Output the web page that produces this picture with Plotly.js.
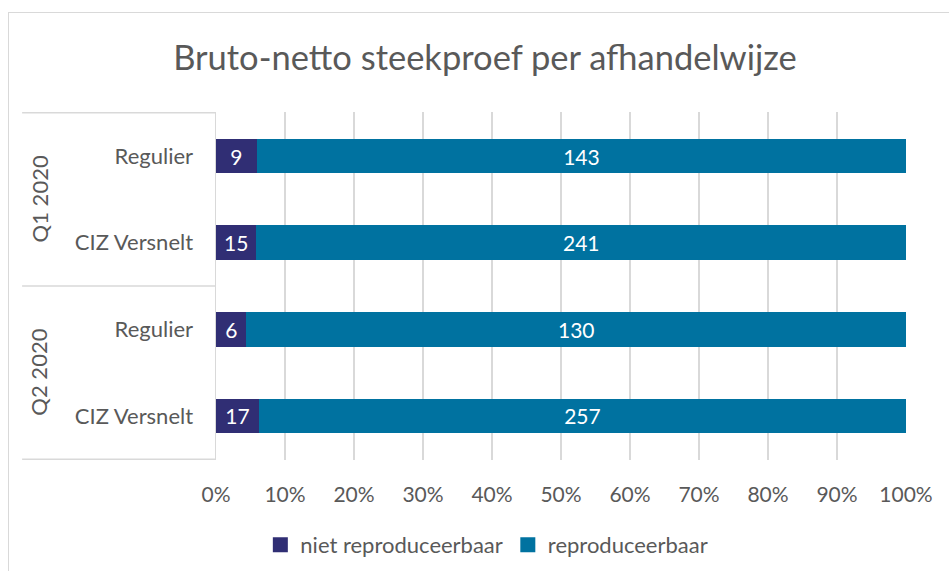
<!DOCTYPE html>
<html>
<head>
<meta charset="utf-8">
<script src="https://cdn.plot.ly/plotly-3.0.1.min.js"></script>
<style>
  html, body { margin: 0; padding: 0; background: #fff; }
  #frame { position: absolute; left: 8px; top: 12px; width: 960px; height: 600px; border-left: 1.5px solid #d9d9d9; border-top: 1.5px solid #d9d9d9; pointer-events: none; }
  #chart { width: 949px; height: 571px; }
</style>
</head>
<body>
<div id="chart"></div>
<div id="frame"></div>
<script>
const categoryIds = ['Q1 2020|Regulier', 'Q1 2020|CIZ Versnelt', 'Q2 2020|Regulier', 'Q2 2020|CIZ Versnelt'];
const categoryLabels = ['Regulier', 'CIZ Versnelt', 'Regulier', 'CIZ Versnelt'];
const groupLabels = ['Q1 2020', 'Q2 2020'];
const seriesNames = ['niet reproduceerbaar', 'reproduceerbaar'];
const nietReproduceerbaar = [9, 15, 6, 17];
const reproduceerbaar = [143, 241, 130, 257];
const xTickVals = [0, 10, 20, 30, 40, 50, 60, 70, 80, 90, 100];
const xTickLabels = ['0%', '10%', '20%', '30%', '40%', '50%', '60%', '70%', '80%', '90%', '100%'];

const fontFamily = 'Lato, "Open Sans", "Liberation Sans", sans-serif';
const grey = '#595959';
const lineGrey = '#d9d9d9';
const colors = ['#302E74', '#0072A0'];
const seriesValues = [nietReproduceerbaar, reproduceerbaar];

const traces = seriesValues.map((vals, i) => ({
  type: 'bar', orientation: 'h', name: seriesNames[i], showlegend: false,
  y: categoryIds, x: vals,
  text: vals.map(String), textposition: 'inside', insidetextanchor: 'middle',
  constraintext: 'none', textfont: { color: '#ffffff', size: 21, family: fontFamily },
  marker: { color: colors[i] }, width: 0.4, hoverinfo: 'none'
}));

seriesNames.forEach((n, i) => traces.push({
  type: 'scatter', mode: 'markers', name: n, x: [null], y: [null],
  marker: { symbol: 'square', size: 15, color: colors[i] }, hoverinfo: 'none', showlegend: true
}));

const shapes = [-0.5, 1.5, 3.5].map(v => ({
  type: 'line', xref: 'paper', yref: 'y', x0: -0.281, x1: 0, y0: v, y1: v,
  line: { color: lineGrey, width: 1.5 }
}));

const annotations = groupLabels.map((g, i) => ({
  text: g, xref: 'paper', yref: 'y', x: (39 - 216) / 690, y: 0.5 + 2 * i,
  xanchor: 'center', yanchor: 'middle', textangle: -90, showarrow: false,
  font: { size: 22, color: grey, family: fontFamily }
}));

const layout = {
  width: 949, height: 571,
  margin: { l: 216, r: 43, t: 112, b: 111, autoexpand: false },
  paper_bgcolor: '#ffffff', plot_bgcolor: '#ffffff',
  barmode: 'stack', barnorm: 'percent',
  title: { text: 'Bruto-netto steekproef per afhandelwijze', x: 0.511, xref: 'container', xanchor: 'center', y: 0.898, yref: 'container', yanchor: 'middle',
           font: { size: 34.5, color: grey, family: fontFamily } },
  xaxis: {
    range: [0, 100], tickmode: 'array', tickvals: xTickVals, ticktext: xTickLabels, tickangle: 0, automargin: false,
    showgrid: true, gridcolor: lineGrey, gridwidth: 1.5, zeroline: false,
    showline: false, ticks: '', ticklabelstandoff: 20,
    tickfont: { size: 21, color: grey, family: fontFamily }, fixedrange: true
  },
  yaxis: {
    type: 'category', autorange: 'reversed', automargin: false,
    tickvals: categoryIds, ticktext: categoryLabels,
    showline: true, linecolor: lineGrey, linewidth: 1.5, showgrid: false, ticks: '',
    ticklabelstandoff: 17,
    tickfont: { size: 22, color: grey, family: fontFamily }, fixedrange: true
  },
  showlegend: true,
  legend: { orientation: 'h', xref: 'container', x: 0.513, xanchor: 'center', yref: 'container', y: 0.0455, yanchor: 'middle',
            font: { size: 22, color: grey, family: fontFamily }, traceorder: 'normal', itemwidth: 30 },
  shapes: shapes,
  annotations: annotations,
  bargap: 0.6
};

Plotly.newPlot('chart', traces, layout, { displayModeBar: false, staticPlot: true });
</script>
</body>
</html>
